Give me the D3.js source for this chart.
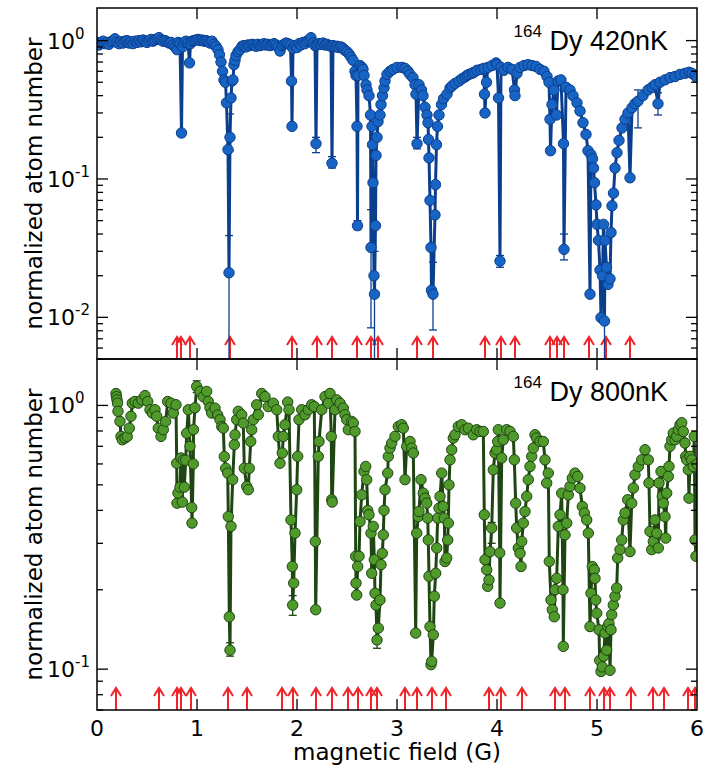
<!DOCTYPE html>
<html><head><meta charset="utf-8">
<script src="https://cdn.jsdelivr.net/npm/d3@7"></script>
<style>body{margin:0;background:#fff}svg{display:block}</style>
</head><body><svg id="c" width="706" height="768"></svg>
<script>
// ---- data ----
const fieldTicks = [0,1,2,3,4,5,6];
const top420 = [[0.00,0.97],[0.02,0.93],[0.04,0.96],[0.06,0.99],[0.08,0.95],[0.10,0.97],[0.12,0.94],[0.14,0.98],[0.16,1.00],[0.18,1.03],[0.20,0.97],[0.22,0.95],[0.24,0.98],[0.26,0.96],[0.28,0.99],[0.30,1.00],[0.32,0.96],[0.34,0.98],[0.36,0.95],[0.38,0.99],[0.40,0.97],[0.42,1.00],[0.44,0.98],[0.46,1.01],[0.48,0.99],[0.50,0.97],[0.52,1.00],[0.54,1.02],[0.56,0.99],[0.58,1.01],[0.60,1.03],[0.62,1.05],[0.64,1.01],[0.66,0.99],[0.68,1.00],[0.70,0.98],[0.72,0.96],[0.74,0.97],[0.76,0.93],[0.78,0.90],[0.80,0.86],[0.81,0.97],[0.83,0.95],[0.845,0.215],[0.855,0.90],[0.87,0.97],[0.89,0.99],[0.91,0.96],[0.925,0.69],[0.935,0.95],[0.95,0.99],[0.97,1.00],[0.99,1.01],[1.01,1.02],[1.03,1.00],[1.05,1.01],[1.07,0.99],[1.09,1.00],[1.11,0.98],[1.13,0.96],[1.15,0.99],[1.17,0.94],[1.19,0.91],[1.21,0.86],[1.225,0.79],[1.24,0.70],[1.255,0.60],[1.27,0.52],[1.285,0.50],[1.295,0.355],[1.31,0.163],[1.32,0.021],[1.33,0.20],[1.34,0.385],[1.35,0.51],[1.36,0.52],[1.37,0.67],[1.38,0.72],[1.39,0.78],[1.41,0.83],[1.43,0.86],[1.45,0.91],[1.47,0.92],[1.49,0.90],[1.51,0.93],[1.53,0.92],[1.55,0.94],[1.57,0.93],[1.59,0.91],[1.61,0.94],[1.63,0.92],[1.65,0.93],[1.67,0.95],[1.69,0.93],[1.71,0.94],[1.73,0.92],[1.75,0.93],[1.77,0.95],[1.79,0.93],[1.81,0.90],[1.83,0.84],[1.85,0.92],[1.87,0.94],[1.89,0.96],[1.91,0.95],[1.935,0.93],[1.945,0.51],[1.95,0.24],[1.96,0.88],[1.98,0.92],[2.00,0.89],[2.02,0.95],[2.04,0.93],[2.06,0.97],[2.08,0.95],[2.10,0.99],[2.12,1.01],[2.14,1.05],[2.16,0.96],[2.18,0.92],[2.19,0.18],[2.20,0.93],[2.22,0.95],[2.24,0.94],[2.26,0.96],[2.28,0.93],[2.30,0.94],[2.32,0.92],[2.34,0.91],[2.35,0.13],[2.36,0.92],[2.38,0.90],[2.40,0.91],[2.42,0.89],[2.44,0.90],[2.46,0.88],[2.48,0.85],[2.50,0.83],[2.52,0.80],[2.54,0.76],[2.56,0.72],[2.58,0.60],[2.59,0.56],[2.60,0.24],[2.605,0.046],[2.61,0.56],[2.63,0.66],[2.65,0.64],[2.66,0.62],[2.67,0.56],[2.69,0.48],[2.70,0.44],[2.72,0.40],[2.735,0.29],[2.74,0.032],[2.75,0.24],[2.755,0.177],[2.76,0.094],[2.77,0.02],[2.775,0.0147],[2.785,0.046],[2.79,0.148],[2.80,0.20],[2.81,0.26],[2.83,0.29],[2.84,0.345],[2.855,0.40],[2.87,0.455],[2.88,0.51],[2.90,0.57],[2.93,0.60],[2.96,0.62],[3.00,0.64],[3.05,0.64],[3.08,0.63],[3.11,0.60],[3.13,0.57],[3.16,0.54],[3.18,0.48],[3.19,0.41],[3.20,0.18],[3.22,0.48],[3.245,0.44],[3.26,0.40],[3.28,0.33],[3.30,0.29],[3.31,0.255],[3.315,0.193],[3.32,0.142],[3.33,0.07],[3.34,0.032],[3.345,0.0157],[3.36,0.0147],[3.38,0.055],[3.385,0.091],[3.395,0.177],[3.405,0.24],[3.42,0.29],[3.445,0.345],[3.465,0.38],[3.50,0.41],[3.53,0.455],[3.55,0.47],[3.58,0.49],[3.62,0.51],[3.65,0.53],[3.68,0.545],[3.70,0.56],[3.72,0.57],[3.75,0.58],[3.77,0.59],[3.80,0.61],[3.84,0.62],[3.87,0.63],[3.875,0.41],[3.88,0.30],[3.895,0.50],[3.91,0.64],[3.95,0.66],[3.99,0.69],[4.00,0.67],[4.015,0.385],[4.03,0.0255],[4.04,0.64],[4.07,0.61],[4.11,0.64],[4.15,0.62],[4.175,0.44],[4.18,0.40],[4.20,0.58],[4.23,0.64],[4.27,0.66],[4.31,0.67],[4.35,0.66],[4.39,0.65],[4.43,0.62],[4.47,0.60],[4.50,0.55],[4.52,0.50],[4.53,0.27],[4.535,0.16],[4.55,0.345],[4.57,0.44],[4.595,0.29],[4.61,0.51],[4.64,0.52],[4.665,0.18],[4.67,0.031],[4.69,0.46],[4.73,0.44],[4.76,0.40],[4.80,0.355],[4.83,0.31],[4.86,0.255],[4.89,0.21],[4.91,0.16],[4.93,0.0147],[4.94,0.15],[4.955,0.14],[4.965,0.12],[4.975,0.094],[4.99,0.065],[5.00,0.047],[5.015,0.036],[5.03,0.022],[5.04,0.00995],[5.055,0.02],[5.065,0.047],[5.075,0.0094],[5.08,0.036],[5.095,0.023],[5.11,0.0173],[5.13,0.019],[5.14,0.041],[5.15,0.064],[5.165,0.079],[5.18,0.12],[5.20,0.155],[5.22,0.19],[5.25,0.234],[5.28,0.27],[5.31,0.30],[5.33,0.102],[5.35,0.327],[5.38,0.35],[5.41,0.365],[5.46,0.40],[5.51,0.44],[5.55,0.46],[5.58,0.48],[5.61,0.35],[5.63,0.50],[5.68,0.52],[5.73,0.54],[5.78,0.55],[5.83,0.57],[5.88,0.58],[5.92,0.59],[5.95,0.58],[5.98,0.56],[6.00,0.54]];
const errTop = [[1.32,0.001,0.039],[1.33,0.16,0.295],[2.19,0.155,0.20],[2.35,0.12,0.145],[2.605,0.043,0.05],[2.74,0.0084,0.06],[2.775,0.001,0.03],[3.20,0.165,0.2],[3.36,0.0081,0.025],[4.03,0.023,0.028],[4.67,0.026,0.04],[5.075,0.001,0.02],[5.41,0.234,0.44],[5.61,0.29,0.42]];
const bot800 = [[0.19,1.11],[0.195,1.08],[0.20,1.05],[0.205,1.02],[0.21,0.95],[0.23,0.87],[0.24,0.763],[0.253,0.741],[0.28,0.752],[0.303,0.763],[0.323,0.82],[0.34,0.91],[0.353,1.02],[0.38,1.035],[0.413,1.02],[0.447,1.05],[0.48,1.09],[0.507,1.035],[0.53,0.963],[0.553,0.936],[0.58,0.963],[0.597,0.91],[0.613,0.82],[0.64,0.763],[0.663,0.809],[0.687,0.87],[0.707,1.035],[0.74,1.02],[0.763,0.936],[0.79,1.006],[0.797,0.604],[0.80,0.426],[0.81,0.465],[0.83,0.49],[0.84,0.632],[0.853,0.43],[0.863,0.62],[0.873,0.49],[0.887,0.62],[0.897,0.785],[0.913,0.963],[0.93,0.70],[0.947,0.41],[0.95,0.358],[0.963,0.60],[0.965,0.81],[0.98,0.98],[0.997,1.18],[1.03,1.13],[1.063,1.08],[1.097,1.13],[1.113,1.035],[1.13,0.98],[1.147,0.936],[1.18,0.977],[1.207,0.92],[1.23,0.883],[1.247,0.832],[1.263,0.82],[1.273,0.64],[1.287,0.578],[1.307,0.554],[1.313,0.379],[1.323,0.158],[1.33,0.118],[1.34,0.348],[1.357,0.523],[1.373,0.71],[1.38,0.774],[1.397,0.883],[1.413,0.95],[1.447,0.922],[1.463,0.857],[1.473,0.578],[1.497,0.493],[1.513,0.479],[1.523,0.578],[1.537,0.73],[1.547,0.809],[1.563,0.883],[1.597,1.006],[1.613,0.922],[1.647,1.11],[1.68,1.08],[1.713,0.99],[1.763,1.02],[1.797,0.963],[1.813,0.763],[1.83,0.604],[1.853,0.66],[1.863,0.763],[1.88,0.845],[1.907,1.03],[1.92,0.963],[1.94,0.368],[1.953,0.245],[1.957,0.175],[1.967,0.212],[1.98,0.328],[1.997,0.479],[2.007,0.641],[2.02,0.883],[2.047,0.963],[2.08,0.922],[2.113,0.963],[2.147,1.006],[2.173,0.99],[2.183,0.305],[2.187,0.168],[2.213,0.641],[2.22,0.73],[2.247,0.963],[2.28,1.08],[2.313,1.02],[2.33,1.11],[2.343,0.763],[2.347,0.439],[2.352,0.43],[2.38,0.963],[2.397,1.05],[2.43,1.02],[2.463,0.977],[2.48,0.922],[2.497,0.883],[2.513,0.809],[2.547,0.87],[2.563,0.857],[2.58,0.797],[2.587,0.268],[2.59,0.212],[2.597,0.191],[2.607,0.245],[2.62,0.268],[2.63,0.363],[2.647,0.458],[2.67,0.562],[2.687,0.587],[2.697,0.523],[2.707,0.40],[2.72,0.385],[2.74,0.328],[2.747,0.231],[2.763,0.348],[2.773,0.26],[2.78,0.194],[2.79,0.175],[2.80,0.129],[2.813,0.143],[2.83,0.183],[2.84,0.249],[2.853,0.275],[2.863,0.323],[2.87,0.40],[2.88,0.479],[2.907,0.554],[2.913,0.641],[2.93,0.689],[2.947,0.72],[2.98,0.763],[3.013,0.832],[3.047,0.845],[3.063,0.82],[3.08,0.523],[3.097,0.699],[3.13,0.73],[3.147,0.689],[3.163,0.66],[3.187,0.137],[3.197,0.328],[3.213,0.379],[3.22,0.396],[3.24,0.523],[3.263,0.465],[3.28,0.445],[3.297,0.426],[3.307,0.374],[3.313,0.309],[3.32,0.225],[3.33,0.145],[3.34,0.104],[3.347,0.107],[3.363,0.135],[3.373,0.189],[3.387,0.231],[3.397,0.288],[3.407,0.374],[3.42,0.408],[3.43,0.452],[3.447,0.554],[3.463,0.414],[3.473,0.374],[3.48,0.256],[3.497,0.264],[3.507,0.309],[3.513,0.358],[3.52,0.50],[3.53,0.622],[3.547,0.679],[3.563,0.752],[3.58,0.774],[3.613,0.832],[3.647,0.845],[3.68,0.809],[3.713,0.82],[3.763,0.774],[3.797,0.809],[3.83,0.797],[3.863,0.797],[3.873,0.385],[3.88,0.26],[3.897,0.238],[3.907,0.206],[3.92,0.218],[3.93,0.279],[3.947,0.343],[3.963,0.57],[3.98,0.66],[3.997,0.679],[4.007,0.73],[4.013,0.809],[4.027,0.276],[4.03,0.178],[4.047,0.632],[4.063,0.741],[4.097,0.809],[4.13,0.797],[4.163,0.763],[4.173,0.622],[4.187,0.426],[4.197,0.343],[4.213,0.288],[4.23,0.275],[4.24,0.245],[4.247,0.305],[4.263,0.358],[4.28,0.396],[4.297,0.452],[4.313,0.523],[4.33,0.587],[4.347,0.641],[4.363,0.689],[4.38,0.774],[4.397,0.752],[4.43,0.73],[4.463,0.73],[4.48,0.622],[4.497,0.508],[4.513,0.554],[4.523,0.256],[4.54,0.183],[4.553,0.168],[4.573,0.158],[4.58,0.20],[4.597,0.221],[4.613,0.348],[4.63,0.385],[4.647,0.465],[4.66,0.20],[4.663,0.122],[4.68,0.323],[4.697,0.358],[4.713,0.458],[4.73,0.493],[4.753,0.53],[4.78,0.554],[4.807,0.538],[4.83,0.486],[4.853,0.414],[4.873,0.391],[4.897,0.368],[4.913,0.328],[4.93,0.145],[4.94,0.194],[4.953,0.245],[4.973,0.238],[4.98,0.221],[4.987,0.183],[4.997,0.163],[5.02,0.141],[5.027,0.108],[5.04,0.098],[5.053,0.102],[5.067,0.112],[5.08,0.137],[5.097,0.118],[5.107,0.145],[5.12,0.149],[5.13,0.099],[5.14,0.141],[5.147,0.161],[5.163,0.175],[5.18,0.189],[5.197,0.203],[5.207,0.264],[5.23,0.284],[5.247,0.309],[5.263,0.368],[5.28,0.391],[5.307,0.439],[5.33,0.279],[5.347,0.426],[5.363,0.486],[5.38,0.546],[5.413,0.587],[5.447,0.622],[5.48,0.679],[5.513,0.622],[5.52,0.508],[5.53,0.333],[5.547,0.284],[5.563,0.305],[5.58,0.368],[5.597,0.328],[5.613,0.288],[5.62,0.508],[5.64,0.562],[5.653,0.452],[5.663,0.426],[5.68,0.379],[5.687,0.314],[5.697,0.465],[5.713,0.538],[5.72,0.587],[5.73,0.70],[5.747,0.741],[5.763,0.785],[5.78,0.741],[5.797,0.763],[5.813,0.809],[5.83,0.845],[5.847,0.86],[5.863,0.797],[5.88,0.72],[5.887,0.641],[5.897,0.622],[5.913,0.57],[5.92,0.445],[5.93,0.641],[5.947,0.622],[5.963,0.587],[5.973,0.763],[5.98,0.309],[5.99,0.268],[6.0,0.60]];
const errBot = [[1.33,0.112,0.126],[1.957,0.16,0.19],[0.997,1.12,1.24],[2.80,0.12,0.14],[3.947,0.30,0.36]];
const arrowsTop = [0.80,0.84,0.93,1.33,1.95,2.20,2.35,2.60,2.74,2.81,3.20,3.36,3.88,4.04,4.18,4.53,4.60,4.67,4.92,5.09,5.33];
const arrowsBottom = [0.19,0.62,0.80,0.84,0.94,1.31,1.50,1.85,1.96,2.19,2.35,2.51,2.61,2.74,2.80,3.08,3.20,3.35,3.49,3.92,4.04,4.25,4.58,4.68,4.93,5.07,5.13,5.34,5.56,5.67,5.91,5.98];
const labels = ["420nK","800nK"];

// ---- drawing ----
const svg = d3.select("#c");
const L = 97, R = 697;
const x = d3.scaleLinear([0,6],[L,R]);
const panels = [
  {top:8, bot:359, dom:[0.005,1.72], data:top420, err:errTop, arrows:arrowsTop, label:labels[0],
   fill:"#1764c4", stroke:"#0b3f8e", line:"#0b3f8e"},
  {top:359, bot:710, dom:[0.07,1.5], data:bot800, err:errBot, arrows:arrowsBottom, label:labels[1],
   fill:"#4f9a2b", stroke:"#1f4612", line:"#1f4612"}
];
const numFont = "DejaVu Sans";
panels.forEach((p,i)=>{
  const y = d3.scaleLog(p.dom,[p.bot,p.top]);
  const g = svg.append("g");
  const cid = "clip"+i;
  svg.append("clipPath").attr("id",cid).append("rect")
    .attr("x",L).attr("y",p.top).attr("width",R-L).attr("height",p.bot-p.top);
  const pg = g.append("g").attr("clip-path",`url(#${cid})`);
  // arrows
  const ag = pg.append("g").attr("stroke","#f0242a").attr("stroke-width",2).attr("fill","none");
  p.arrows.forEach(a=>{
    const ax = x(a), tip = p.bot-22;
    ag.append("path").attr("d",`M${ax},${p.bot}V${tip}M${ax-5},${tip+8}L${ax},${tip}L${ax+5},${tip+8}`);
  });
  // line
  pg.append("path").datum(p.data).attr("fill","none").attr("stroke",p.line).attr("stroke-width",3)
    .attr("stroke-linejoin","round")
    .attr("d",d3.line().x(d=>x(d[0])).y(d=>y(d[1])));
  // error bars
  const eg = pg.append("g").attr("stroke",p.line).attr("stroke-width",1.3);
  p.err.forEach(e=>{
    const ex=x(e[0]);
    eg.append("line").attr("x1",ex).attr("x2",ex).attr("y1",y(e[1])).attr("y2",y(e[2]));
    [e[1],e[2]].forEach(v=>eg.append("line").attr("x1",ex-4).attr("x2",ex+4).attr("y1",y(v)).attr("y2",y(v)));
  });
  // markers
  pg.append("g").selectAll("circle").data(p.data).join("circle")
    .attr("cx",d=>x(d[0])).attr("cy",d=>y(d[1])).attr("r",5.2)
    .attr("fill",p.fill).attr("stroke",p.stroke).attr("stroke-width",1);
  // frame
  g.append("rect").attr("x",L).attr("y",p.top).attr("width",R-L).attr("height",p.bot-p.top)
    .attr("fill","none").attr("stroke","#000").attr("stroke-width",1.5);
  // y ticks
  const tg = g.append("g").attr("stroke","#000").attr("stroke-width",1.3);
  y.ticks().forEach(v=>{
    const lv = Math.log10(v), major = Math.abs(lv-Math.round(lv))<1e-9;
    const len = major?11:6, yy=y(v);
    tg.append("line").attr("x1",L).attr("x2",L+len).attr("y1",yy).attr("y2",yy);
    tg.append("line").attr("x1",R).attr("x2",R-len).attr("y1",yy).attr("y2",yy);
    if(major){
      const t = g.append("text").attr("x",47).attr("y",yy+8).attr("font-family",numFont).attr("font-size",22).attr("fill","#000");
      t.append("tspan").text("10");
      t.append("tspan").attr("font-size",15).attr("dy",-10).text(String(Math.round(lv)));
    }
  });
  // x ticks (top & bottom of panel)
  fieldTicks.filter(v=>v>0&&v<6).forEach(v=>{
    tg.append("line").attr("x1",x(v)).attr("x2",x(v)).attr("y1",p.top).attr("y2",p.top+11);
    tg.append("line").attr("x1",x(v)).attr("x2",x(v)).attr("y1",p.bot).attr("y2",p.bot-11);
  });
  // y title
  g.append("text").attr("transform",`translate(42,${(p.top+p.bot)/2}) rotate(-90)`)
    .attr("text-anchor","middle").attr("font-family",numFont).attr("font-size",23).text("normalized atom number");
  // label
  const lt = g.append("text").attr("x",668).attr("y",p.top+42).attr("text-anchor","end")
    .attr("font-family","Liberation Sans").attr("font-size",27);
  lt.append("tspan").attr("font-size",17).attr("dy",-13).text("164");
  lt.append("tspan").attr("dy",13).text(" Dy "+p.label);
});
// x tick labels
fieldTicks.forEach(v=>{
  svg.append("text").attr("x",x(v)).attr("y",736).attr("text-anchor","middle")
    .attr("font-family",numFont).attr("font-size",22).text(String(v));
});
svg.append("text").attr("x",(L+R)/2).attr("y",760).attr("text-anchor","middle")
  .attr("font-family",numFont).attr("font-size",23).text("magnetic field (G)");
</script></body></html>
